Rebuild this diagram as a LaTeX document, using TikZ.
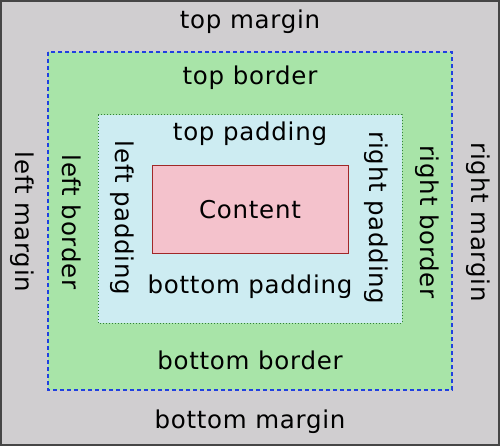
\documentclass[tikz,border=0pt]{standalone}
\usepackage{fontspec}
\setmainfont[LetterSpace=3]{DejaVu Sans}
\definecolor{margingray}{RGB}{208,206,208}
\definecolor{framegray}{RGB}{70,70,70}
\definecolor{bordergreen}{RGB}{168,228,168}
\definecolor{padblue}{RGB}{205,236,242}
\definecolor{contentpink}{RGB}{244,194,204}
\definecolor{contentred}{RGB}{160,40,40}
\definecolor{dashblue}{RGB}{32,64,224}
\definecolor{dotgreen}{RGB}{50,130,60}
\begin{document}
\begin{tikzpicture}[x=1pt,y=-1pt,
  lbl/.style={font=\fontsize{24.5}{28}\selectfont, text=black, inner sep=0pt},
  vl/.style={lbl, rotate=-90}]
\useasboundingbox (0,0) rectangle (500,446);
% margin area
\fill[margingray] (0,0) rectangle (500,446);
\draw[framegray, line width=2pt] (1,1) rectangle (499,445);
% border area
\draw[fill=bordergreen, draw=dashblue, line width=1.4pt, dash pattern=on 4pt off 3pt] (48,52) rectangle (452,390);
% padding area
\draw[fill=padblue, draw=dotgreen, line width=1pt, dotted] (98,115) rectangle (402,323);
% content box
\node[draw=contentred, fill=contentpink, line width=1pt, minimum width=196pt, minimum height=87pt, inner sep=0pt] (content) at (250,209.5) {};
\node[lbl] (contentlbl) at (250,210) {Content};
% labels
\node[lbl] (tm) at (250,22) {top margin};
\node[lbl] (tb) at (250,78) {top border};
\node[lbl] (tp) at (250,134) {top padding};
\node[lbl] (bp) at (250,287) {bottom padding};
\node[lbl] (bb) at (250,360) {bottom border};
\node[lbl] (bm) at (250,422) {bottom margin};
\node[vl] (lm) at (22,222) {left margin};
\node[vl] (lb) at (72,222) {left border};
\node[vl] (lp) at (122,218) {left padding};
\node[vl] (rp) at (376,218) {right padding};
\node[vl] (rb) at (427,222) {right border};
\node[vl] (rm) at (478,222) {right margin};
\end{tikzpicture}
\end{document}
